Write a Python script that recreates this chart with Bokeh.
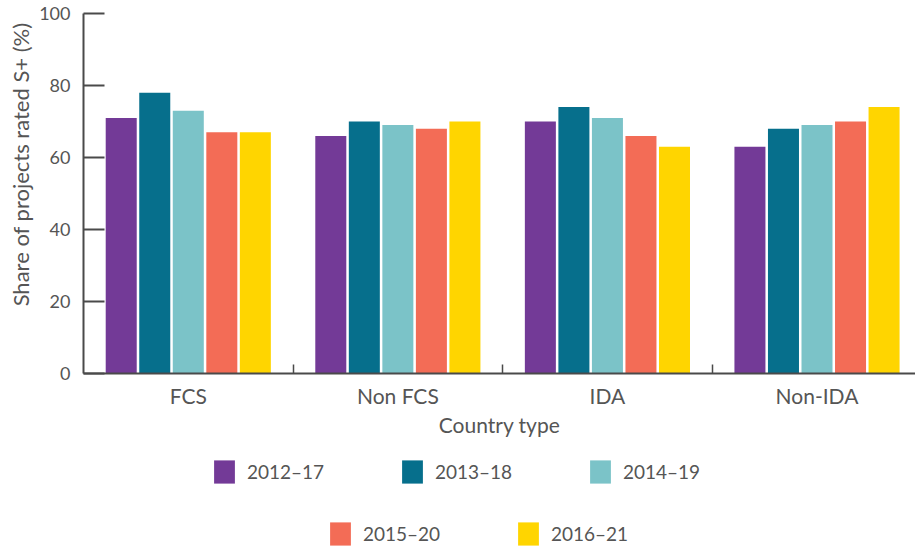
from bokeh.plotting import figure
from bokeh.layouts import column
from bokeh.models import (Range1d, FixedTicker, Legend, LegendItem, ColumnDataSource,
                          CustomJSTickFormatter, Title)
from bokeh.transform import dodge
from bokeh.embed import file_html
from bokeh.resources import INLINE

categories = ["FCS", "Non FCS", "IDA", "Non-IDA"]
series = ["2012–17", "2013–18", "2014–19", "2015–20", "2016–21"]
v2012_17 = [71, 66, 70, 63]
v2013_18 = [78, 70, 74, 68]
v2014_19 = [73, 69, 71, 69]
v2015_20 = [67, 68, 66, 70]
v2016_21 = [67, 70, 63, 74]
values = [v2012_17, v2013_18, v2014_19, v2015_20, v2016_21]
y_ticks = [0, 20, 40, 60, 80, 100]
colors = ["#733A97", "#066F8C", "#7BC3C8", "#F36C56", "#FFD500"]

FONT = "Lato"
TXT = "#555555"
AX = "#4a4a4a"

centers = [i + 0.5 for i in range(len(categories))]
boundaries = [float(i) for i in range(1, len(categories))]
data = dict(x=centers)
for i, v in enumerate(values):
    data[f"s{i}"] = v
source = ColumnDataSource(data)

p = figure(width=915, height=449, x_range=Range1d(0, 3.97), y_range=Range1d(0, 100),
           output_backend="svg", toolbar_location=None,
           min_border_left=83, min_border_right=0, min_border_top=13, min_border_bottom=76)
p.outline_line_color = None
p.xgrid.visible = False
p.ygrid.visible = False
p.background_fill_color = "white"
p.border_fill_color = "white"

offsets = [-0.32, -0.16, 0.0, 0.16, 0.32]
for i, (name, col) in enumerate(zip(series, colors)):
    p.vbar(x=dodge("x", offsets[i]), top=f"s{i}", width=0.148, bottom=0,
           source=source, fill_color=col, line_color=None)

# y axis
p.yaxis.ticker = FixedTicker(ticks=y_ticks)
p.yaxis.major_tick_in = 21
p.yaxis.major_tick_out = 0
p.yaxis.minor_tick_line_color = None
p.yaxis.axis_line_color = AX
p.yaxis.axis_line_width = 2
p.yaxis.major_tick_line_color = AX
p.yaxis.major_tick_line_width = 2
p.yaxis.major_label_standoff = 13
p.yaxis.major_label_text_font = FONT
p.yaxis.major_label_text_font_size = "18px"
p.yaxis.major_label_text_color = TXT

ytitle = Title(text="Share of projects rated S+ (%)", align="right", offset=9, standoff=6,
               text_font=FONT, text_font_size="22px", text_font_style="normal",
               text_color=TXT)
p.add_layout(ytitle, "left")

# x axis
p.xaxis.ticker = FixedTicker(ticks=centers, minor_ticks=boundaries)
p.xaxis.formatter = CustomJSTickFormatter(args=dict(labels=categories),
                                          code="return labels[Math.floor(tick)];")
p.xaxis.major_tick_in = 0
p.xaxis.major_tick_out = 0
p.xaxis.minor_tick_in = 9
p.xaxis.minor_tick_out = 0
p.xaxis.minor_tick_line_color = AX
p.xaxis.minor_tick_line_width = 1.5
p.xaxis.axis_line_color = AX
p.xaxis.axis_line_width = 2
p.xaxis.major_label_standoff = 9
p.xaxis.major_label_text_font = FONT
p.xaxis.major_label_text_font_size = "21px"
p.xaxis.major_label_text_color = TXT
p.xaxis.axis_label = "Country type"
p.xaxis.axis_label_standoff = 1
p.xaxis.axis_label_text_font = FONT
p.xaxis.axis_label_text_font_size = "21px"
p.xaxis.axis_label_text_font_style = "normal"
p.xaxis.axis_label_text_color = TXT

# legend panel (renderers reuse the data but sit outside the visible y range)
lp = figure(width=915, height=100, x_range=Range1d(0, 3.97), y_range=Range1d(1000, 1001),
            output_backend="svg", toolbar_location=None,
            min_border_left=83, min_border_right=0, min_border_top=0, min_border_bottom=0)
lp.axis.visible = False
lp.grid.visible = False
lp.outline_line_color = None
lp.border_fill_color = "white"
lp.background_fill_color = "white"

legend_renderers = []
for i, col in enumerate(colors):
    legend_renderers.append(lp.vbar(x=dodge("x", offsets[i]), top=f"s{i}", width=0.148,
                                     bottom=0, source=source, fill_color=col, line_color=None))

def make_legend(idx, loc):
    items = [LegendItem(label=series[i], renderers=[legend_renderers[i]]) for i in idx]
    return Legend(items=items, orientation="horizontal", location=loc,
                  glyph_width=26, glyph_height=29, label_standoff=10, label_width=140,
                  label_height=29, spacing=12, padding=0, margin=0,
                  border_line_color=None, background_fill_alpha=0,
                  label_text_font=FONT, label_text_font_size="19px",
                  label_text_color=TXT)

lp.add_layout(make_legend([0, 1, 2], (128, 63)), "center")
lp.add_layout(make_legend([3, 4], (244, 1)), "center")

open("out.html", "w").write(file_html(column(p, lp), INLINE))
